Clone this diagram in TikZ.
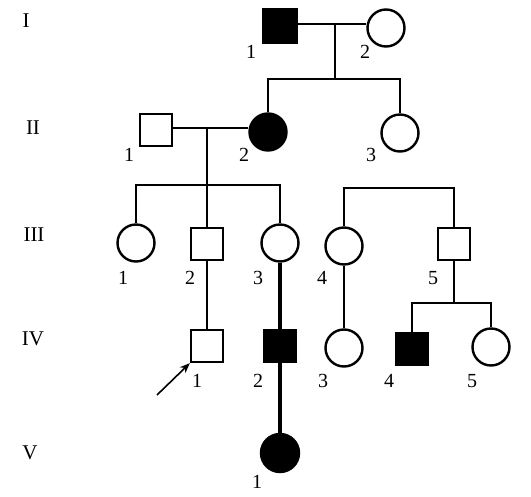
\documentclass[tikz,border=0pt]{standalone}
\usepackage{fontspec}
\setmainfont{Liberation Serif}
\usetikzlibrary{arrows.meta}
\begin{document}
\begin{tikzpicture}[x=1pt,y=-1pt,
  line width=2.6pt,
  male/.style={draw,rectangle,minimum size=32pt,inner sep=0pt,line width=2.4pt},
  female/.style={draw,circle,minimum size=37pt,inner sep=0pt,line width=2.4pt},
  aff/.style={fill=black},
  lbl/.style={font=\fontsize{20}{20}\selectfont,inner sep=0pt},
  gen/.style={font=\fontsize{21}{21}\selectfont,inner sep=0pt},
  thick3/.style={line width=3.6pt}]
\useasboundingbox (0,0) rectangle (531,497);
% generation labels
\node[gen] (gI) at (26,21) {I};
\node[gen] (gII) at (33,128) {II};
\node[gen] (gIII) at (34,235) {III};
\node[gen] (gIV) at (33,339) {IV};
\node[gen] (gV) at (30,453) {V};
% Generation I
\node[male,aff,minimum size=34pt] (I1) at (280,26) {};
\node[female] (I2) at (386,28) {};
\node[lbl] (lI1) at (251,52) {1};
\node[lbl] (lI2) at (365,52) {2};
% Generation II
\node[male] (II1) at (156,130) {};
\node[female,aff] (II2) at (268,132) {};
\node[female] (II3) at (400,133) {};
\node[lbl] (lII1) at (129,155) {1};
\node[lbl] (lII2) at (244,155) {2};
\node[lbl] (lII3) at (371,155) {3};
% Generation III
\node[female] (III1) at (136,243) {};
\node[male] (III2) at (207,244) {};
\node[female] (III3) at (280,243) {};
\node[female] (III4) at (344,246) {};
\node[male] (III5) at (454,244) {};
\node[lbl] (lIII1) at (123,278) {1};
\node[lbl] (lIII2) at (190,278) {2};
\node[lbl] (lIII3) at (258,278) {3};
\node[lbl] (lIII4) at (322,278) {4};
\node[lbl] (lIII5) at (433,278) {5};
% Generation IV
\node[male] (IV1) at (207,346) {};
\node[male,aff] (IV2) at (280,346) {};
\node[female] (IV3) at (344,348) {};
\node[male,aff] (IV4) at (412,349) {};
\node[female] (IV5) at (491,347) {};
\node[lbl] (lIV1) at (197,381) {1};
\node[lbl] (lIV2) at (258,381) {2};
\node[lbl] (lIV3) at (323,381) {3};
\node[lbl] (lIV4) at (389,381) {4};
\node[lbl] (lIV5) at (472,381) {5};
% Generation V
\node[female,aff,minimum size=38pt] (V1) at (280,453) {};
\node[lbl] (lV1) at (257,482) {1};
% coordinates
\coordinate (mI) at (335,24);
\coordinate (sI) at (335,79);
\coordinate (mII) at (207,128);
\coordinate (sII) at (207,185);
\coordinate (s45) at (400,188);
\coordinate (sIII5) at (454,303);
% Generation I family
\draw (I1.east |- mI) -- (I2.west |- mI);
\draw (mI) -- (sI);
\draw (II2.north) -- (II2.north |- sI) -- (II3.north |- sI) -- (II3.north);
% Generation II family
\draw (II1.east |- mII) -- (II2.west |- mII);
\draw (mII) -- (sII);
\draw (III1.north) -- (III1.north |- sII) -- (III3.north |- sII) -- (III3.north);
\draw (sII) -- (III2.north);
% III-4 / III-5 bracket
\draw (III4.north) -- (III4.north |- s45) -- (III5.north |- s45) -- (III5.north);
% descendants
\draw (III2.south) -- (IV1.north);
\draw[thick3] (III3.south) -- (IV2.north);
\draw (III4.south) -- (IV3.north);
\draw (III5.south) -- (sIII5);
\draw (IV4.north) -- (IV4.north |- sIII5) -- (IV5.north |- sIII5) -- (IV5.north);
\draw[thick3] (IV2.south) -- (V1.north);
% proband arrow
\coordinate (arrS) at (157,395);
\draw[line width=1.6pt,-{Stealth[length=10pt,width=8pt]}] (arrS) -- (IV1.south west);
\end{tikzpicture}
\end{document}
